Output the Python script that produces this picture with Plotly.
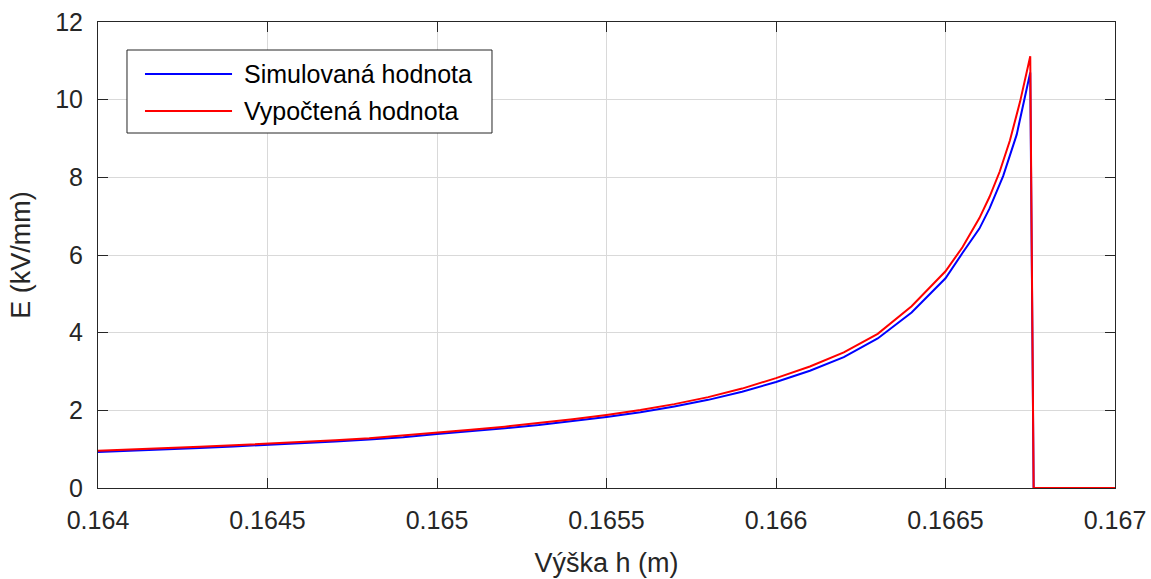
import plotly.graph_objects as go

# Height h (m) and field strength E (kV/mm) for the simulated curve
h_sim = [0.16400, 0.16410, 0.16420, 0.16430, 0.16440, 0.16450, 0.16460, 0.16470,
         0.16480, 0.16490, 0.16500, 0.16510, 0.16520, 0.16530, 0.16540, 0.16550,
         0.16560, 0.16570, 0.16580, 0.16590, 0.16600, 0.16610, 0.16620, 0.16630,
         0.16640, 0.16650, 0.16655, 0.16660, 0.16663, 0.16667, 0.16671, 0.16675,
         0.16676, 0.16700]
e_sim = [0.93, 0.96, 0.99, 1.03, 1.07, 1.11, 1.15, 1.20,
         1.25, 1.31, 1.39, 1.46, 1.54, 1.62, 1.72, 1.83,
         1.95, 2.10, 2.27, 2.48, 2.73, 3.02, 3.37, 3.85,
         4.52, 5.40, 6.05, 6.68, 7.20, 8.03, 9.10, 10.70,
         0.00, 0.00]

# Height h (m) and field strength E (kV/mm) for the calculated curve
h_calc = [0.16400, 0.16410, 0.16420, 0.16430, 0.16440, 0.16450, 0.16460, 0.16470,
          0.16480, 0.16490, 0.16500, 0.16510, 0.16520, 0.16530, 0.16540, 0.16550,
          0.16560, 0.16570, 0.16580, 0.16590, 0.16600, 0.16610, 0.16620, 0.16630,
          0.16640, 0.16650, 0.16655, 0.16660, 0.16663, 0.16666, 0.16669, 0.16672,
          0.16675, 0.16676, 0.16700]
e_calc = [0.96, 0.99, 1.02, 1.06, 1.10, 1.14, 1.18, 1.23,
          1.28, 1.35, 1.43, 1.50, 1.58, 1.67, 1.77, 1.88,
          2.01, 2.16, 2.34, 2.56, 2.83, 3.13, 3.49, 3.97,
          4.68, 5.58, 6.20, 6.95, 7.50, 8.15, 8.95, 9.95,
          11.12, 0.00, 0.00]

x_ticks = [0.164, 0.1645, 0.165, 0.1655, 0.166, 0.1665, 0.167]
x_tick_text = ["0.164", "0.1645", "0.165", "0.1655", "0.166", "0.1665", "0.167"]
y_ticks = [0, 2, 4, 6, 8, 10, 12]

series_names = ["Simulovaná hodnota", "Vypočtená hodnota"]
series_colors = ["#0000ff", "#ff0000"]

AX = "#262626"
GRID = "#d9d9d9"
FONT = "Liberation Sans, Arial, sans-serif"

fig = go.Figure()
fig.add_trace(go.Scatter(x=h_sim, y=e_sim, mode="lines", name=series_names[0],
                         line=dict(color=series_colors[0], width=2)))
fig.add_trace(go.Scatter(x=h_calc, y=e_calc, mode="lines", name=series_names[1],
                         line=dict(color=series_colors[1], width=2)))

axis_common = dict(
    showline=True, linecolor=AX, linewidth=1, mirror="allticks",
    ticks="inside", ticklen=10, tickcolor=AX, tickwidth=1,
    showgrid=True, gridcolor=GRID, gridwidth=1, zeroline=False,
    automargin=False,
    tickfont=dict(family=FONT, size=25, color=AX),
)

fig.update_layout(
    width=1151, height=579,
    margin=dict(l=98, r=36, t=22, b=91),
    paper_bgcolor="white", plot_bgcolor="white",
    showlegend=False,
    xaxis=dict(range=[0.164, 0.167], tickvals=x_ticks, ticktext=x_tick_text,
               title=dict(text="Výška h (m)", font=dict(family=FONT, size=27, color=AX),
                          standoff=20),
               ticklabelstandoff=10, **axis_common),
    yaxis=dict(range=[0, 12], tickvals=y_ticks,
               title=dict(text="E (kV/mm)", font=dict(family=FONT, size=27, color=AX),
                          standoff=16),
               ticklabelstandoff=9, **axis_common),
)

# Legend box drawn in paper coordinates
fig.add_shape(type="rect", xref="paper", yref="paper",
              x0=0.0285, x1=0.3874, y0=0.7618, y1=0.9399,
              line=dict(color=AX, width=1), fillcolor="white", layer="above")
legend_rows = [0.8885, 0.8090]
for name, color, yy in zip(series_names, series_colors, legend_rows):
    fig.add_shape(type="line", xref="paper", yref="paper",
                  x0=0.0462, x1=0.1318, y0=yy, y1=yy,
                  line=dict(color=color, width=2), layer="above")
    fig.add_annotation(xref="paper", yref="paper", x=0.1416, y=yy,
                       text=name, showarrow=False, xanchor="left", yanchor="middle",
                       font=dict(family=FONT, size=25, color="black"))

fig.write_html("out.html")
